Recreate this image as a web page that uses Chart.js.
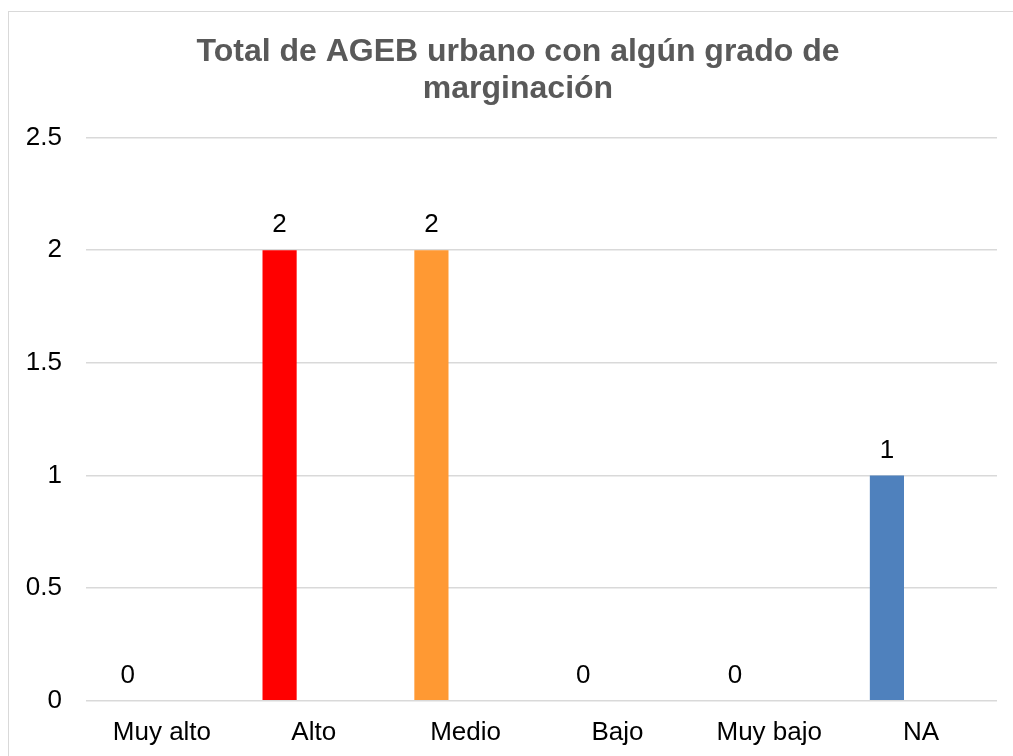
<!DOCTYPE html>
<html>
<head>
<meta charset="utf-8">
<script src="https://cdn.jsdelivr.net/npm/chart.js@4/dist/chart.umd.min.js"></script>
<style>
  html, body { margin: 0; padding: 0; background: #fff; overflow: hidden; }
  #frame { position: absolute; left: 8px; top: 11px; width: 1100px; height: 900px; border: 1px solid #d9d9d9; }
  #wrap { position: absolute; left: 0; top: 0; width: 1013px; height: 756px; }
</style>
</head>
<body>
<div id="frame"></div>
<div id="wrap"><canvas id="chart" width="1013" height="756"></canvas></div>
<script>
// Categories and values
const categories = ['Muy alto', 'Alto', 'Medio', 'Bajo', 'Muy bajo', 'NA'];
const values = [0, 2, 2, 0, 0, 1];
const barColors = ['#FF0000', '#FF0000', '#FF9933', '#4F81BD', '#4F81BD', '#4F81BD'];
const yTicks = [0, 0.5, 1, 1.5, 2, 2.5];

const FONT = '"Liberation Sans", Arial, sans-serif';

// Value labels above each bar of the first series
const valueLabels = {
    id: 'valueLabels',
    afterDatasetsDraw(chart) {
        const ctx = chart.ctx;
        const meta = chart.getDatasetMeta(0);
        ctx.save();
        ctx.fillStyle = '#000';
        ctx.font = '26px ' + FONT;
        ctx.textAlign = 'center';
        ctx.textBaseline = 'middle';
        meta.data.forEach((bar, i) => {
            ctx.fillText(String(values[i]), bar.x, bar.y - 25);
        });
        ctx.restore();
    }
};

// Center the title over the whole framed chart box rather than the canvas
const titleShift = {
    id: 'titleShift',
    afterLayout(chart) {
        if (chart.titleBlock) chart.titleBlock.left = 39;
    }
};

new Chart(document.getElementById('chart'), {
    type: 'bar',
    data: {
        labels: categories,
        datasets: [
            {
                data: values,
                backgroundColor: barColors,
                borderWidth: 0,
                barPercentage: 0.5,
                categoryPercentage: 0.9
            },
            {
                data: categories.map(() => null),
                backgroundColor: 'rgba(0,0,0,0)',
                barPercentage: 0.5,
                categoryPercentage: 0.9
            }
        ]
    },
    options: {
        responsive: false,
        animation: false,
        layout: { padding: { left: 2, right: 16, top: 14, bottom: 0 } },
        plugins: {
            legend: { display: false },
            tooltip: { enabled: false },
            title: {
                display: true,
                text: ['Total de AGEB urbano con algún grado de', 'marginación'],
                color: '#595959',
                font: { family: FONT, size: 32, weight: 'bold', lineHeight: 1.15 },
                padding: { top: 20, bottom: 30 }
            }
        },
        scales: {
            x: {
                grid: { display: false },
                border: { display: false },
                ticks: {
                    color: '#000',
                    padding: 8,
                    font: { family: FONT, size: 26 }
                }
            },
            y: {
                min: 0,
                max: 2.5,
                afterBuildTicks(axis) { axis.ticks = yTicks.map(v => ({ value: v })); },
                afterFit(axis) { axis.width = 84; },
                grid: { color: '#d9d9d9', lineWidth: 1.5, drawTicks: false },
                border: { display: false },
                ticks: {
                    color: '#000',
                    padding: 24,
                    font: { family: FONT, size: 26 },
                    callback: (v) => String(v)
                }
            }
        }
    },
    plugins: [valueLabels, titleShift]
});
</script>
</body>
</html>
